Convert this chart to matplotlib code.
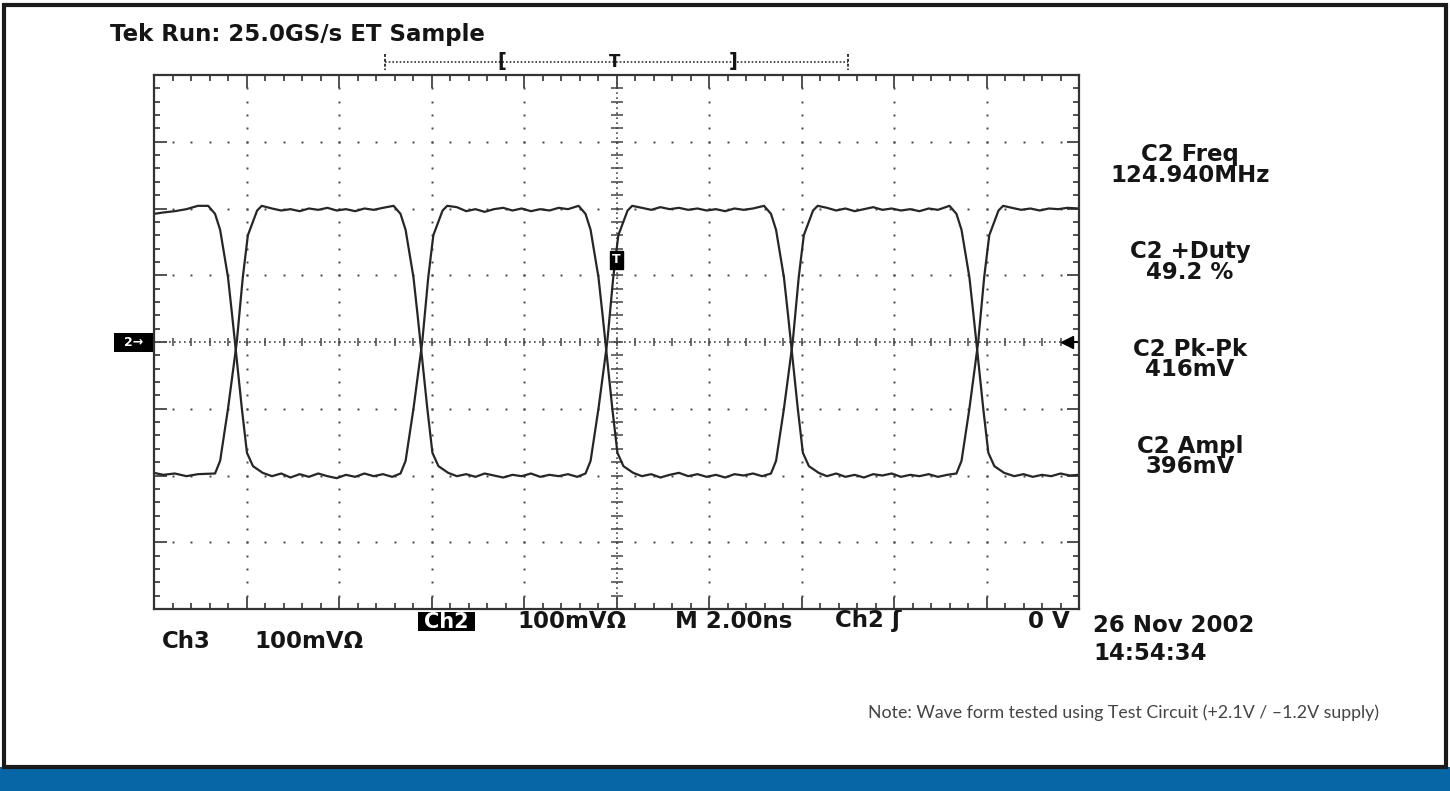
import numpy as np
import matplotlib.pyplot as plt
from matplotlib.patches import Rectangle

# scope trace, time in ns (2 ns/div), level in mV (100 mV/div)
ch2_t = [0.00, 0.20, 0.45, 0.70, 0.95, 1.17, 1.32, 1.43, 1.60, 1.685, 1.75, 1.90, 2.01, 2.14, 2.35,
         2.55, 2.75, 2.95, 3.15, 3.35, 3.55, 3.75, 3.95, 4.15, 4.35, 4.55, 4.75, 4.95, 5.15, 5.33,
         5.44, 5.61, 5.80, 5.93, 6.04, 6.24, 6.34,
         6.55, 6.75, 6.95, 7.15, 7.35, 7.55, 7.75, 7.95, 8.15, 8.35, 8.55, 8.75, 8.95, 9.18,
         9.33, 9.44, 9.61, 9.695, 9.76, 9.91, 10.02, 10.15, 10.36,
         10.55, 10.75, 10.95, 11.15, 11.35, 11.55, 11.75, 11.95, 12.15, 12.35, 12.55, 12.75, 12.95, 13.15, 13.34,
         13.45, 13.62, 13.81, 13.94, 14.05, 14.25, 14.35,
         14.55, 14.75, 14.95, 15.15, 15.35, 15.55, 15.75, 15.95, 16.15, 16.35, 16.55, 16.75, 16.95, 17.20,
         17.35, 17.46, 17.63, 17.715, 17.78, 17.93, 18.04, 18.17, 18.38,
         18.6, 18.8, 19.0, 19.2, 19.4, 19.6, 19.8, 20.0]
ch2_mv = [192, 194, 196, 199, 204, 204, 192, 168, 97, 43, 0, -100, -166, -186, -196,
          -201, -197, -203, -198, -202, -197, -201, -204, -199, -202, -197, -201, -198, -202, -197,
          -178, -100, 0, 97, 160, 197, 204,
          202, 196, 199, 195, 199, 201, 197, 200, 196, 199, 197, 201, 199, 204,
          192, 168, 97, 43, 0, -100, -166, -186, -196,
          -201, -198, -203, -199, -196, -201, -198, -202, -199, -203, -198, -200, -197, -201, -197,
          -178, -100, 0, 97, 160, 197, 204,
          201, 197, 200, 196, 199, 202, 198, 200, 197, 199, 196, 200, 198, 204,
          192, 168, 97, 43, 0, -100, -166, -186, -196,
          -201, -198, -202, -199, -201, -197, -200, -199]

ch3_t = [0.00, 0.20, 0.45, 0.70, 0.95, 1.32,
         1.43, 1.60, 1.79, 1.92, 2.03, 2.23, 2.33,
         2.55, 2.75, 2.95, 3.15, 3.35, 3.55, 3.75, 3.95, 4.15, 4.35, 4.55, 4.75, 4.95, 5.18,
         5.33, 5.44, 5.61, 5.695, 5.76, 5.91, 6.02, 6.15, 6.36,
         6.55, 6.75, 6.95, 7.15, 7.35, 7.55, 7.75, 7.95, 8.15, 8.35, 8.55, 8.75, 8.95, 9.15, 9.33,
         9.44, 9.61, 9.80, 9.93, 10.04, 10.24, 10.34,
         10.55, 10.75, 10.95, 11.15, 11.35, 11.55, 11.75, 11.95, 12.15, 12.35, 12.55, 12.75, 12.95, 13.19,
         13.34, 13.45, 13.62, 13.705, 13.77, 13.92, 14.03, 14.16, 14.37,
         14.55, 14.75, 14.95, 15.15, 15.35, 15.55, 15.75, 15.95, 16.15, 16.35, 16.55, 16.75, 16.95, 17.15, 17.35,
         17.46, 17.63, 17.82, 17.95, 18.06, 18.26, 18.36,
         18.55, 18.75, 18.95, 19.15, 19.35, 19.55, 19.75, 20.0]
ch3_mv = [-196, -199, -197, -201, -198, -197,
          -178, -100, 0, 97, 160, 197, 204,
          200, 197, 199, 196, 200, 198, 201, 197, 199, 196, 200, 198, 201, 204,
          192, 168, 97, 43, 0, -100, -166, -186, -196,
          -201, -198, -202, -197, -200, -203, -199, -201, -197, -202, -199, -201, -198, -202, -197,
          -178, -100, 0, 97, 160, 197, 204,
          201, 198, 202, 199, 201, 198, 200, 197, 199, 196, 200, 198, 200, 204,
          192, 168, 97, 43, 0, -100, -166, -186, -196,
          -201, -197, -202, -199, -203, -198, -200, -197, -202, -199, -201, -198, -202, -199, -197,
          -178, -100, 0, 97, 160, 197, 204,
          201, 198, 200, 197, 200, 199, 201, 200]

trig_level = 0      # mV
trig_mark = 123     # mV, the "T" box on the centre line

meas_names = ["C2 Freq", "C2 +Duty", "C2 Pk-Pk", "C2 Ampl"]
meas_values = ["124.940MHz", "49.2 %", "416mV", "396mV"]

title = "Tek Run: 25.0GS/s ET Sample"
note = "Note: Wave form tested using Test Circuit (+2.1V / \u20131.2V supply)"

W, H = 1450, 791
ink = "#333333"
fs = 16.5
bold = dict(family="DejaVu Sans", weight="bold", color="#151515")

fig = plt.figure(figsize=(W / 100, H / 100), dpi=100)

# background layer in pixel coordinates
bg = fig.add_axes([0, 0, 1, 1])
bg.set_xlim(0, W)
bg.set_ylim(H, 0)
bg.axis("off")

bg.add_patch(Rectangle((0, 767), W, 24, fc="#0766a5", ec="none"))
bg.add_patch(Rectangle((4, 5), W - 8, 762, fc="none", ec="#1a1a1a", lw=3))

bg.text(110, 34, title, ha="left", va="center", fontsize=fs, **bold)

# record / trigger position bar
bg.plot([385, 848], [62, 62], color=ink, lw=1.2, ls=(0, (1, 1.2)))
for xe in (385, 848):
    bg.plot([xe, xe], [54, 70], color=ink, lw=1.4, ls=(0, (1.5, 1)))
bg.text(502, 62, "[", ha="center", va="center", fontsize=14, **bold)
bg.text(615, 62, "T", ha="center", va="center", fontsize=12, **bold)
bg.text(733, 62, "]", ha="center", va="center", fontsize=14, **bold)

# channel ground marker
bg.add_patch(Rectangle((114, 333), 39, 19, fc="black", ec="none"))
bg.text(133.5, 342.5, "2\u2192", ha="center", va="center", fontsize=9,
        family="DejaVu Sans", weight="bold", color="white")

# measurements
for i, (nm, val) in enumerate(zip(meas_names, meas_values)):
    bg.text(1190, 165 + 97.2 * i, nm + "\n" + val, ha="center", va="center",
            multialignment="center", fontsize=fs, linespacing=0.87, **bold)

# status lines under the graticule
bg.add_patch(Rectangle((418, 612), 57, 19, fc="black", ec="none"))
bg.text(446.5, 621.5, "Ch2", ha="center", va="center", fontsize=15,
        family="DejaVu Sans", weight="bold", color="white")
bg.text(572, 621, "100mV\u03a9", ha="center", va="center", fontsize=fs, **bold)
bg.text(734, 621, "M 2.00ns", ha="center", va="center", fontsize=fs, **bold)
bg.text(868, 621, "Ch2 \u0283", ha="center", va="center", fontsize=fs, **bold)
bg.text(1070, 621, "0 V", ha="right", va="center", fontsize=fs, **bold)
bg.text(1093, 626, "26 Nov 2002", ha="left", va="center", fontsize=fs, **bold)
bg.text(1093, 653, "14:54:34", ha="left", va="center", fontsize=fs, **bold)
bg.text(162, 642, "Ch3", ha="left", va="center", fontsize=fs, **bold)
bg.text(254, 642, "100mV\u03a9", ha="left", va="center", fontsize=fs, **bold)

bg.text(1379, 713, note, ha="right", va="center", fontsize=12.8,
        family="Lato", color="#454545")

# graticule
ax = fig.add_axes([154 / W, 1 - 609 / H, 925 / W, 534 / H])
ax.set_xlim(0, 20)
ax.set_ylim(-400, 400)
ax.set_xticks(np.arange(0, 20.01, 2))
ax.set_xticks(np.arange(0, 20.01, 0.4), minor=True)
ax.set_yticks(np.arange(-400, 401, 100))
ax.set_yticks(np.arange(-400, 401, 20), minor=True)
ax.tick_params(which="both", direction="in", top=True, right=True,
               labelbottom=False, labelleft=False, color=ink, width=1.2)
ax.tick_params(which="major", length=9)
ax.tick_params(which="minor", length=4)
for s in ax.spines.values():
    s.set_color(ink)
    s.set_linewidth(1.6)

ys = np.arange(-380, 381, 20)
xs = np.arange(0.4, 19.7, 0.4)
for gx in [2, 4, 6, 8, 12, 14, 16, 18]:
    ax.plot([gx] * len(ys), ys, ls="none", marker="s", ms=1.4, mew=0, color="#444444")
for gy in [-300, -200, -100, 100, 200, 300]:
    ax.plot(xs, [gy] * len(xs), ls="none", marker="s", ms=1.4, mew=0, color="#444444")

ax.axhline(0, color="#444444", lw=1.2, ls=(0, (1, 2)))
ax.axvline(10, color="#444444", lw=1.2, ls=(0, (1, 2)))
ax.plot(xs, [0] * len(xs), ls="none", marker="|", ms=6, mew=1.1, color="#444444")
ax.plot([10] * len(ys), ys, ls="none", marker="_", ms=8, mew=1.1, color="#444444")

ax.plot(ch3_t, ch3_mv, color="#262626", lw=1.6)
ax.plot(ch2_t, ch2_mv, color="#262626", lw=1.6)

ax.text(10, trig_mark, "T", ha="center", va="center", fontsize=9,
        family="DejaVu Sans", weight="bold", color="white",
        bbox=dict(boxstyle="square,pad=0.2", fc="black", ec="black"))
ax.plot([19.75], [trig_level], marker="<", ms=8, color="black", ls="none")
ax.plot([19.8, 20], [trig_level, trig_level], color="black", lw=1.5)

fig.savefig("out.png", dpi=100)
